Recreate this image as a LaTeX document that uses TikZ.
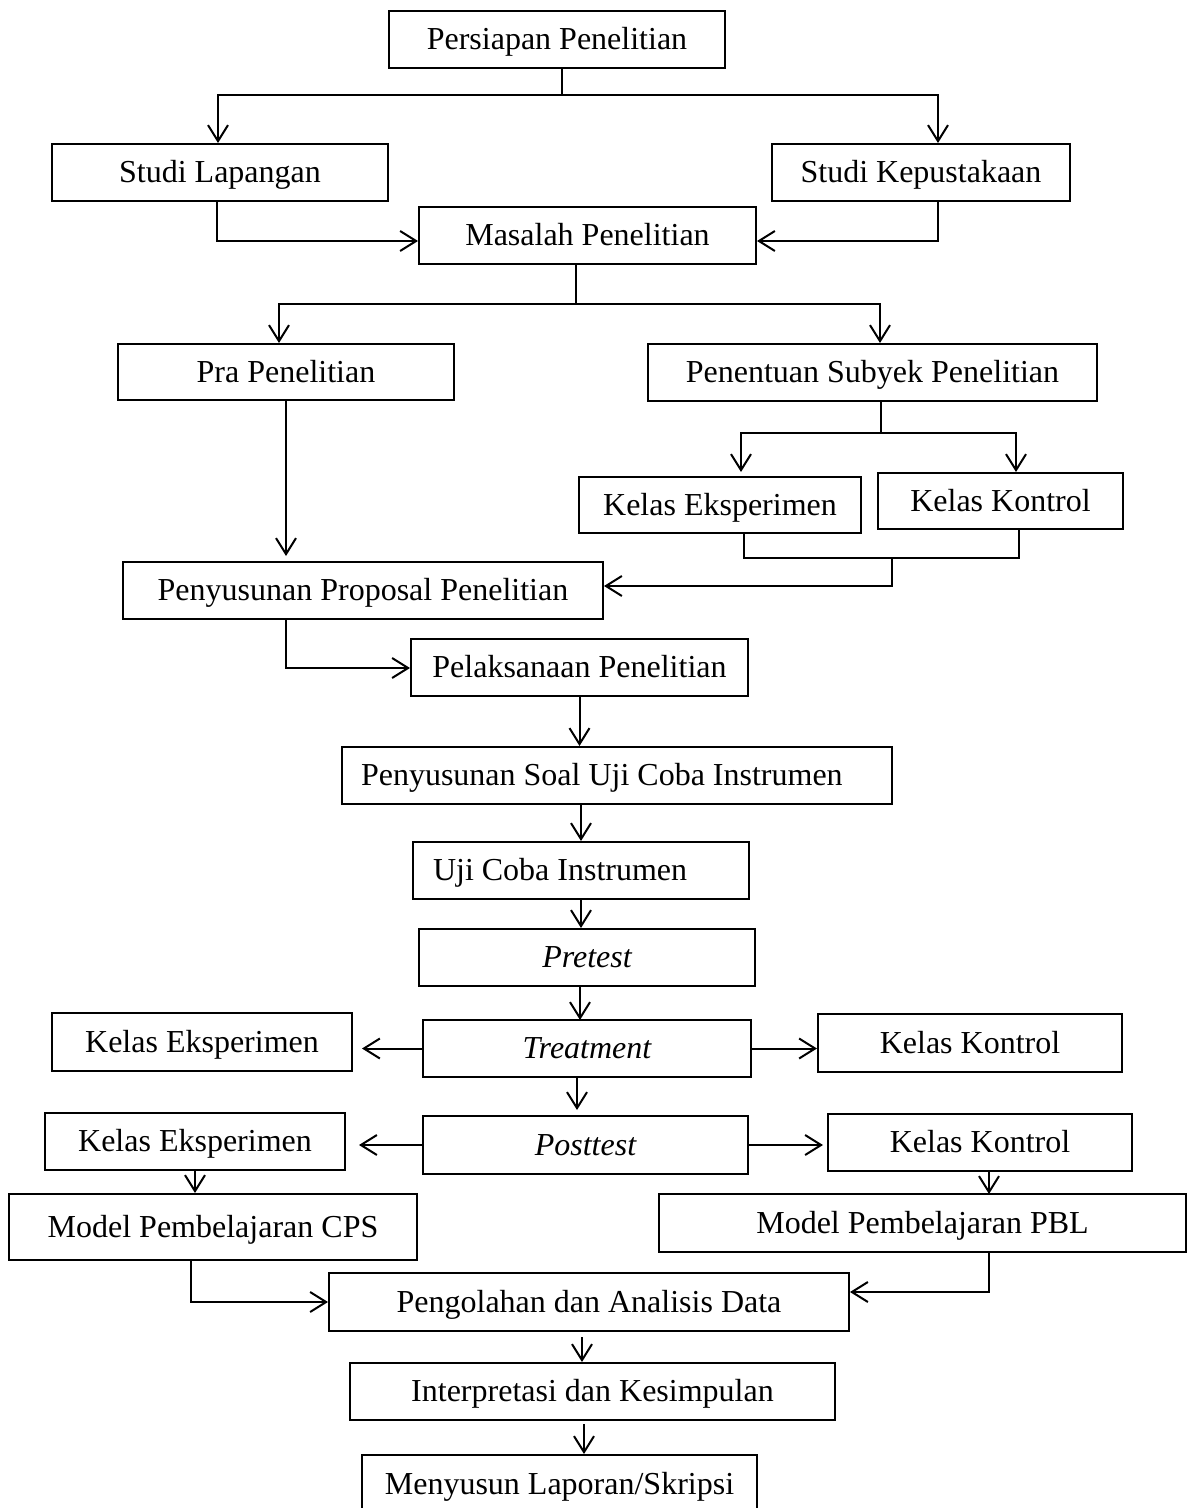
\documentclass[tikz,border=0pt]{standalone}
\usepackage{fontspec}
\setmainfont{Liberation Serif}
\usetikzlibrary{arrows.meta,calc}
\begin{document}
\begin{tikzpicture}[x=0.5pt,y=-0.5pt,
  box/.style={draw,line width=1pt,inner sep=0pt,text height=12.5pt,text depth=2.5pt,font=\fontsize{16}{19}\selectfont},
  ln/.style={line width=1pt},
  arr/.style={line width=1pt,-{Straight Barb[length=8pt,width=10pt,line width=1pt]}}]
\useasboundingbox[fill=white] (0,0) rectangle (1190,1508);
% boxes
\node[box,minimum width=168pt,minimum height=28.5pt] (persiapan) at (557,39.5) {Persiapan Penelitian};
\node[box,minimum width=168pt,minimum height=28.5pt] (studil) at (220,172.5) {Studi Lapangan};
\node[box,minimum width=149pt,minimum height=28.5pt] (studik) at (921,172.5) {Studi Kepustakaan};
\node[box,minimum width=168.5pt,minimum height=28.5pt] (masalah) at (587.5,235.5) {Masalah Penelitian};
\node[box,minimum width=168pt,minimum height=28pt] (pra) at (286,372) {Pra Penelitian};
\node[box,minimum width=224.5pt,minimum height=28.5pt] (penentuan) at (872.5,372.5) {Penentuan Subyek Penelitian};
\node[box,minimum width=141pt,minimum height=28pt] (ke1) at (720,505) {Kelas Eksperimen};
\node[box,minimum width=122.5pt,minimum height=28pt] (kk1) at (1000.5,501) {Kelas Kontrol};
\node[box,minimum width=240pt,minimum height=28.5pt] (proposal) at (363,590.5) {Penyusunan Proposal Penelitian};
\node[box,minimum width=168.5pt,minimum height=28.5pt] (pelaksanaan) at (579.5,667.5) {Pelaksanaan Penelitian};
\node[box,minimum width=275pt,minimum height=28.5pt] (soal) at (617,775.5) {\makebox[275pt][l]{\hspace*{9.5pt}Penyusunan Soal Uji Coba Instrumen}};
\node[box,minimum width=168pt,minimum height=28.5pt] (uji) at (581,870.5) {\makebox[168pt][l]{\hspace*{10pt}Uji Coba Instrumen}};
\node[box,minimum width=168pt,minimum height=28.5pt] (pretest) at (587,957.5) {\itshape Pretest};
\node[box,minimum width=164pt,minimum height=28.5pt] (treatment) at (587,1048.5) {\itshape Treatment};
\node[box,minimum width=150pt,minimum height=29pt] (ke2) at (202,1042) {Kelas Eksperimen};
\node[box,minimum width=152pt,minimum height=29pt] (kk2) at (970,1043) {Kelas Kontrol};
\node[box,minimum width=162.5pt,minimum height=29pt] (posttest) at (585.5,1145) {\itshape Posttest};
\node[box,minimum width=150pt,minimum height=28.5pt] (ke3) at (195,1141.5) {Kelas Eksperimen};
\node[box,minimum width=152pt,minimum height=28.5pt] (kk3) at (980,1142.5) {Kelas Kontrol};
\node[box,minimum width=204pt,minimum height=33pt] (cps) at (213,1227) {Model Pembelajaran CPS};
\node[box,minimum width=263.5pt,minimum height=29pt] (pbl) at (922.5,1223) {Model Pembelajaran PBL};
\node[box,minimum width=260pt,minimum height=29pt] (pengolahan) at (589,1302) {Pengolahan dan Analisis Data};
\node[box,minimum width=242.5pt,minimum height=28.5pt] (interpretasi) at (592.5,1391.5) {Interpretasi dan Kesimpulan};
\node[box,minimum width=197.5pt,minimum height=29.5pt] (menyusun) at (559.5,1484.5) {Menyusun Laporan/Skripsi};
% connectors
\coordinate (j1) at (562,95);
\coordinate (j1l) at (218,95);
\coordinate (j1r) at (938,95);
\draw[ln] (j1 |- persiapan.south) -- (j1);
\draw[arr] (j1) -- (j1l) -- (j1l |- studil.north);
\draw[arr] (j1) -- (j1r) -- (j1r |- studik.north);
\coordinate (c1) at (217,241);
\coordinate (c2) at (938,241);
\draw[arr] (c1 |- studil.south) -- (c1) -- (c1 -| masalah.west);
\draw[arr] (c2 |- studik.south) -- (c2) -- (c2 -| masalah.east);
\coordinate (j2) at (576,304);
\coordinate (j2l) at (279,304);
\coordinate (j2r) at (880,304);
\draw[ln] (j2 |- masalah.south) -- (j2);
\draw[arr] (j2) -- (j2l) -- (j2l |- pra.north);
\draw[arr] (j2) -- (j2r) -- (j2r |- penentuan.north);
\coordinate (j3) at (881,433);
\coordinate (j3l) at (741,433);
\coordinate (j3r) at (1016,433);
\coordinate (t3l) at (741,472);
\draw[ln] (j3 |- penentuan.south) -- (j3);
\draw[arr] (j3) -- (j3l) -- (t3l);
\draw[arr] (j3) -- (j3r) -- (j3r |- kk1.north);
\coordinate (j4l) at (744,558);
\coordinate (j4r) at (1019,558);
\coordinate (j4) at (892,558);
\coordinate (j4b) at (892,586);
\draw[ln] (j4l |- ke1.south) -- (j4l) -- (j4r) -- (j4r |- kk1.south);
\draw[arr] (j4) -- (j4b) -- (j4b -| proposal.east);
\coordinate (t5) at (286,556);
\draw[arr] (pra.south) -- (t5);
\coordinate (c6) at (286,668);
\draw[arr] (c6 |- proposal.south) -- (c6) -- (c6 -| pelaksanaan.west);
\draw[arr] (pelaksanaan.south) -- (pelaksanaan.south |- soal.north);
\draw[arr] (uji.north |- soal.south) -- (uji.north);
\draw[arr] (uji.south) -- (uji.south |- pretest.north);
\coordinate (c7) at (580,1020);
\draw[arr] (c7 |- pretest.south) -- (c7);
\coordinate (c7b) at (577,1110);
\draw[arr] (c7b |- treatment.south) -- (c7b);
\draw[arr,shorten >=4.5pt] (treatment.west) -- (treatment.west -| ke2.east);
\draw[arr] (treatment.east) -- (treatment.east -| kk2.west);
\draw[arr,shorten >=6.5pt] (posttest.west) -- (posttest.west -| ke3.east);
\draw[arr,shorten >=2pt] (posttest.east) -- (posttest.east -| kk3.west);
\draw[arr] (ke3.south) -- (ke3.south |- cps.north);
\coordinate (c8) at (989,1194);
\draw[arr] (c8 |- kk3.south) -- (c8);
\coordinate (c9) at (191,1302);
\draw[arr] (c9 |- cps.south) -- (c9) -- (c9 -| pengolahan.west);
\coordinate (c10) at (989,1292);
\draw[arr] (c10 |- pbl.south) -- (c10) -- (c10 -| pengolahan.east);
\coordinate (c11) at (582,1337);
\draw[arr] (c11) -- (c11 |- interpretasi.north);
\coordinate (c12) at (584,1424);
\draw[arr] (c12) -- (c12 |- menyusun.north);
\end{tikzpicture}
\end{document}
